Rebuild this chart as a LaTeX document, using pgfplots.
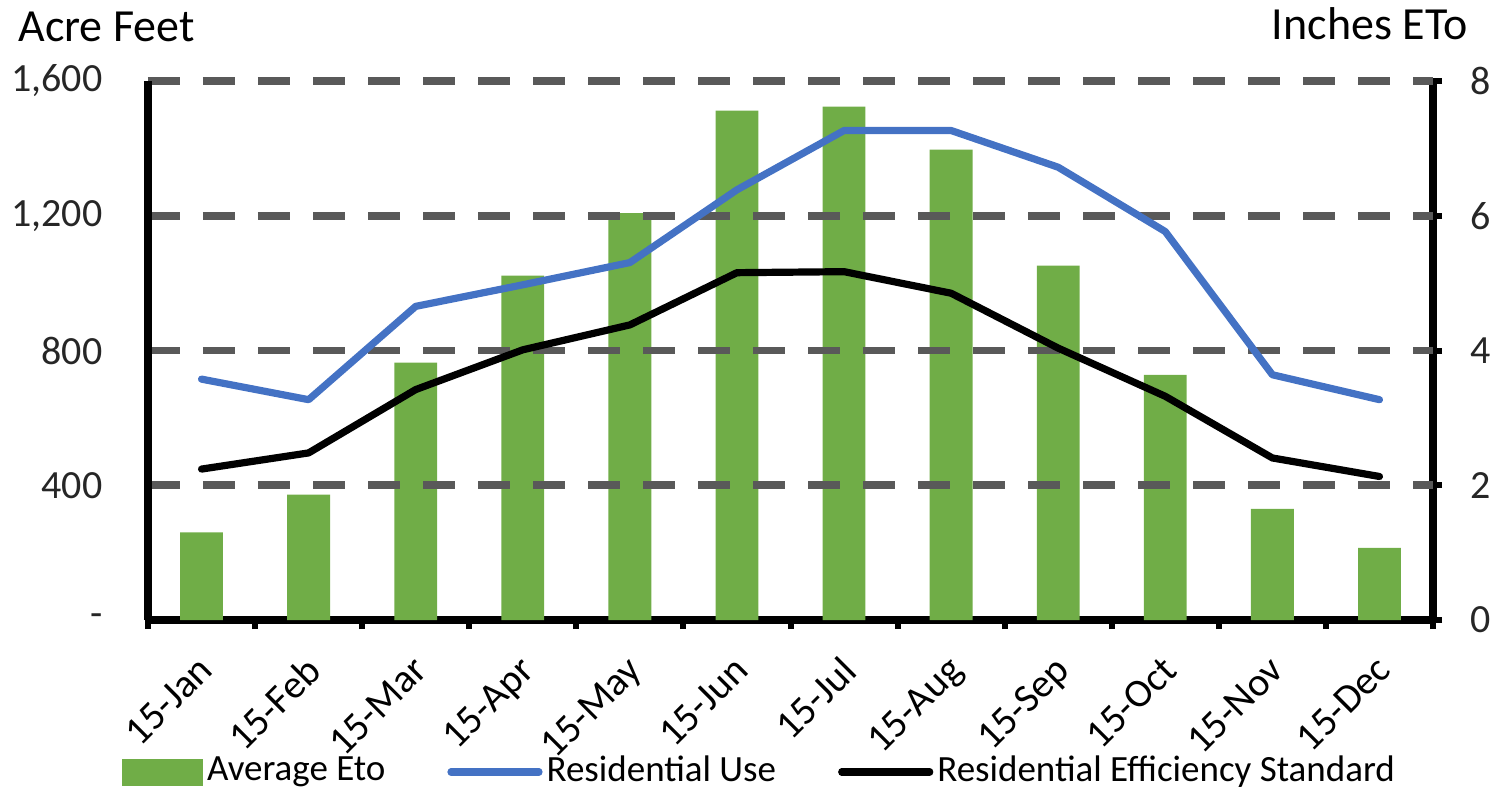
\documentclass[border=0pt]{standalone}
\usepackage{pgfplots}
\pgfplotsset{compat=1.18}
\usepackage{pgfplotstable}
\usepackage{fontspec}
\setmainfont{Carlito}

\definecolor{etogreen}{HTML}{70AD47}
\definecolor{useblue}{HTML}{4472C4}
\definecolor{gridgray}{HTML}{595959}

% month index, ETo (inches), residential use (AF), efficiency standard (AF)
\pgfplotstableread{
m  eto   use   std
0  1.30  715   448
1  1.86  654   496
2  3.82  931   684
3  5.11  995   802
4  6.04  1061  876
5  7.56  1277  1031
6  7.62  1453  1034
7  6.98  1453  970
8  5.26  1344  807
9  3.64  1153  664
10 1.65  728   481
11 1.07  654   426
}\datatable

\begin{document}
\fontsize{20bp}{24bp}\selectfont
\begin{tikzpicture}
\pgfplotsset{
  base/.style={
    scale only axis, width=642.5bp, height=269.5bp,
    at={(0,0)}, anchor=south west,
    xmin=-0.5, xmax=11.5,
    axis line style={-, line width=3.8bp, black},
    every tick/.style={black, line width=3bp},
    tick align=outside,
    font=\fontsize{20bp}{24bp}\selectfont,
  },
}
% ETo bars on the right-hand axis, month separators on the bottom axis
\begin{axis}[base,
  ymin=0, ymax=8,
  axis y line*=right, axis x line*=bottom,
  ytick={0,2,4,6,8}, yticklabels={0,2,4,6,8},
  major tick length=4.5bp,
  yticklabel style={xshift=7.5bp, text=black!85},
  xtick={-0.5,0.5,...,11.5}, xticklabels={},
  extra x ticks={0,...,11},
  extra x tick labels={15-Jan,15-Feb,15-Mar,15-Apr,15-May,15-Jun,15-Jul,15-Aug,15-Sep,15-Oct,15-Nov,15-Dec},
  extra x tick style={tick style={draw=none}},
  xticklabel style={rotate=45, anchor=north east, inner sep=0pt, xshift=-10.5bp, yshift=-7bp},
  ybar, bar width=0.4,
]
\addplot[fill=etogreen, draw=none] table[x=m, y=eto] {\datatable};
\end{axis}
% water use lines on the left-hand axis, with the dashed grid
\begin{axis}[base,
  ymin=0, ymax=1600,
  axis y line*=left, axis x line=none,
  ytick={400,800,1200,1600},
  yticklabels={400,800,{1,200},{1,600}},
  extra y ticks={0},
  extra y tick labels={{-\hspace{1.3em}}},
  extra y tick style={grid=none},
  major tick length=0pt,
  yticklabel style={xshift=-16bp, text=black!85},
  ymajorgrids,
  major grid style={gridgray, line width=3.8bp, dash pattern=on 16bp off 11.5bp},
  legend columns=3,
  legend style={draw=none, fill=none, at={(0.4767,-0.282)}, anchor=center,
    font=\fontsize{18.5bp}{21bp}\selectfont, inner sep=0pt,
    /tikz/every even column/.append style={column sep=29bp}},
  legend cell align=left,
]
\addlegendimage{legend image code/.code={\fill[etogreen] (0bp,-6.5bp) rectangle (40bp,6.5bp);}}
\addlegendentry{Average Eto}
\addplot[useblue, line width=3.6bp, line join=round, line cap=round,
  legend image code/.code={\draw[useblue, line width=3.6bp] (0bp,0bp) -- (44bp,0bp);}]
  table[x=m, y=use] {\datatable};
\addlegendentry{Residential Use}
\addplot[black, line width=3.6bp, line join=round, line cap=round,
  legend image code/.code={\draw[black, line width=3.6bp] (0bp,0bp) -- (44bp,0bp);}]
  table[x=m, y=std] {\datatable};
\addlegendentry{Residential Efficiency Standard}
\end{axis}
\node[anchor=base west, inner sep=0pt, font=\fontsize{23bp}{26bp}\selectfont] at (-65bp,289bp) {Acre Feet};
\node[anchor=base east, inner sep=0pt, font=\fontsize{23bp}{26bp}\selectfont] at (660bp,290bp) {Inches ETo};
\pgfresetboundingbox
\useasboundingbox (-74bp,-86.5bp) rectangle (672.5bp,310bp);
\end{tikzpicture}
\end{document}
